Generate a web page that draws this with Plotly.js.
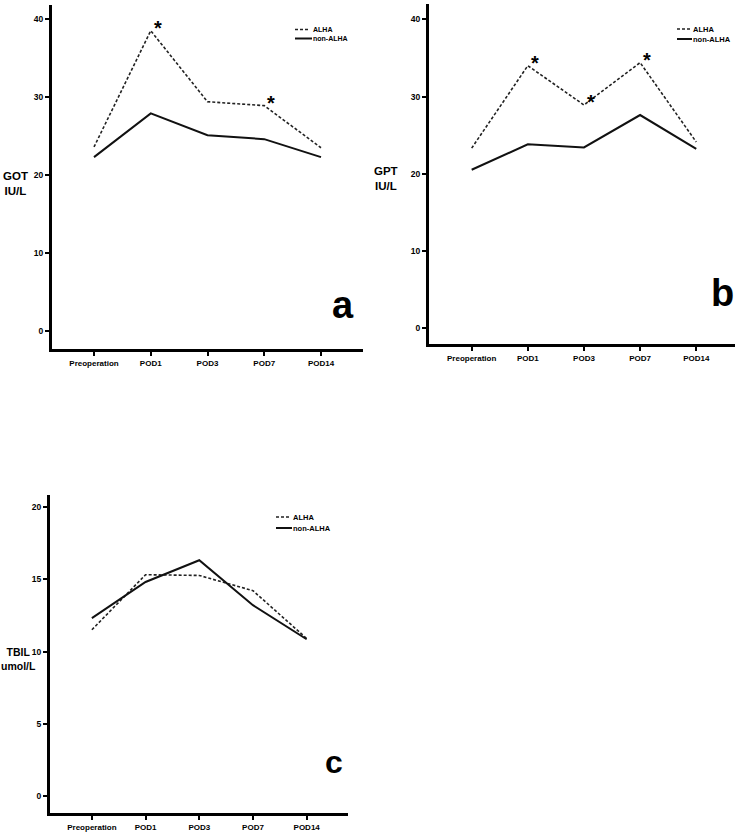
<!DOCTYPE html>
<html>
<head>
<meta charset="utf-8">
<script src="https://cdn.plot.ly/plotly-3.0.1.min.js"></script>
<style>html,body{margin:0;padding:0;background:#fff;}#chart{width:744px;height:832px;}</style>
</head>
<body>
<div id="chart"></div>
<script>
// ---- data ----
var categories = ["Preoperation", "POD1", "POD3", "POD7", "POD14"];
var gotALHA    = [23.6, 38.5, 29.4, 28.9, 23.5];
var gotNon     = [22.3, 27.9, 25.1, 24.6, 22.3];
var gptALHA    = [23.3, 34.0, 28.9, 34.4, 24.1];
var gptNon     = [20.5, 23.8, 23.4, 27.6, 23.2];
var tbilALHA   = [11.5, 15.3, 15.25, 14.2, 10.9];
var tbilNon    = [12.3, 14.8, 16.3, 13.2, 10.85];
var gotStars   = ["POD1", "POD7"];
var gptStars   = ["POD1", "POD3", "POD7"];
var seriesNames = ["ALHA", "non-ALHA"];
var gotTicks  = [0, 10, 20, 30, 40];
var gptTicks  = [0, 10, 20, 30, 40];
var tbilTicks = [0, 5, 10, 15, 20];

// ---- helpers ----
var W = 744, H = 832;
function px(x) { return x / W; }
function py(y) { return 1 - y / H; }
var FONT = "Liberation Sans, Arial, sans-serif";

function dashedTrace(y, xa, ya) {
  return {x: categories, y: y, xaxis: xa, yaxis: ya, type: "scatter", mode: "lines",
          name: seriesNames[0], showlegend: false, hoverinfo: "skip",
          line: {color: "#222", width: 1.6, dash: "3px,2px"}};
}
function solidTrace(y, xa, ya) {
  return {x: categories, y: y, xaxis: xa, yaxis: ya, type: "scatter", mode: "lines",
          name: seriesNames[1], showlegend: false, hoverinfo: "skip",
          line: {color: "#111", width: 2}};
}

var data = [
  dashedTrace(gotALHA, "x", "y"), solidTrace(gotNon, "x", "y"),
  dashedTrace(gptALHA, "x2", "y2"), solidTrace(gptNon, "x2", "y2"),
  dashedTrace(tbilALHA, "x3", "y3"), solidTrace(tbilNon, "x3", "y3")
];

function xax(domain, range, anchor) {
  return {domain: domain, range: range, type: "category", anchor: anchor,
          showline: true, linewidth: 3, linecolor: "#000", mirror: false,
          ticks: "outside", ticklen: 4, tickwidth: 2, tickcolor: "#000",
          showgrid: false, zeroline: false, fixedrange: true,
          tickfont: {family: FONT, size: 8, color: "#000", weight: "bold"}};
}
function yax(domain, range, tickvals, anchor) {
  return {domain: domain, range: range, anchor: anchor, tickvals: tickvals,
          ticktext: tickvals.map(String),
          showline: true, linewidth: 3, linecolor: "#000",
          ticks: "outside", ticklen: 4, tickwidth: 2, tickcolor: "#000",
          showgrid: false, zeroline: false, fixedrange: true,
          tickfont: {family: FONT, size: 8.5, color: "#000", weight: "bold"}};
}

var annotations = [];
var shapes = [];

function textAnn(text, x, y, size, xanchor, align) {
  annotations.push({text: text, xref: "paper", yref: "paper", x: px(x), y: py(y),
    xanchor: xanchor || "center", yanchor: "middle", align: align || "center",
    borderpad: 0, showarrow: false,
    font: {family: FONT, size: size, color: "#000", weight: "bold"}});
}
function legendBlock(x0, x1, yA, yB, tx, size) {
  shapes.push({type: "line", xref: "paper", yref: "paper", x0: px(x0), x1: px(x1), y0: py(yA), y1: py(yA),
               line: {color: "#222", width: 1.6, dash: "3px,2px"}});
  shapes.push({type: "line", xref: "paper", yref: "paper", x0: px(x0), x1: px(x1 + 2), y0: py(yB), y1: py(yB),
               line: {color: "#111", width: 2}});
  textAnn(seriesNames[0], tx, yA, size, "left", "left");
  textAnn(seriesNames[1], tx, yB, size, "left", "left");
}
function stars(list, values, xa, ya) {
  list.forEach(function (c) {
    var i = categories.indexOf(c);
    annotations.push({text: "*", xref: xa, yref: ya, x: c, y: values[i],
      xshift: 7, yshift: -9, xanchor: "center", yanchor: "bottom", showarrow: false,
      borderpad: 0, font: {family: FONT, size: 20, color: "#000", weight: "bold"}});
  });
}

// y titles
textAnn("GOT<br>IU/L", 15, 183, 11.5);
textAnn("GPT<br>IU/L", 386, 178, 11.5);
textAnn("TBIL<br>umol/L", 18, 659, 10.5);
// panel letters
textAnn("a", 343, 305, 38);
textAnn("b", 722, 293, 38);
textAnn("c", 334, 762, 32);
// legends
legendBlock(295, 310, 29.5, 38.5, 312, 7);
legendBlock(677, 690, 29, 39, 692, 7.5);
legendBlock(276, 290, 517, 528, 292, 7.5);
// significance stars
stars(gotStars, gotALHA, "x", "y");
stars(gptStars, gptALHA, "x2", "y2");

var layout = {
  width: W, height: H, margin: {l: 0, r: 0, t: 0, b: 0},
  paper_bgcolor: "#fff", plot_bgcolor: "#fff", showlegend: false,
  xaxis:  xax([px(52), px(363)], [-0.74, 4.74], "y"),
  yaxis:  yax([py(349), py(5)], [-2.3, 41.8], gotTicks, "x"),
  xaxis2: xax([px(429), px(735)], [-0.76, 4.69], "y2"),
  yaxis2: yax([py(344), py(4)], [-2.1, 42], gptTicks, "x2"),
  xaxis3: xax([px(50), px(348)], [-0.78, 4.77], "y3"),
  yaxis3: yax([py(813), py(495)], [-1.14, 20.8], tbilTicks, "x3"),
  annotations: annotations, shapes: shapes
};

Plotly.newPlot("chart", data, layout, {staticPlot: true, displayModeBar: false});
</script>
</body>
</html>
